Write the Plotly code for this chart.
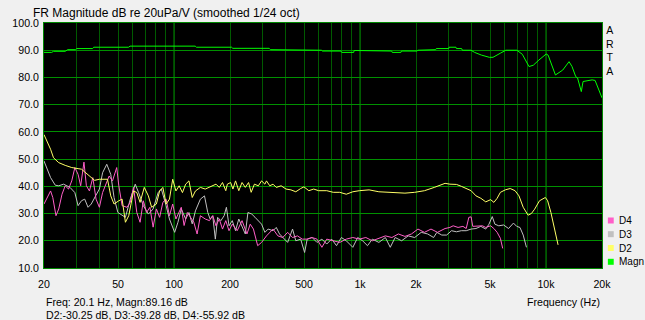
import math
import plotly.graph_objects as go

# ---------------- data ----------------
magn_freq = [20, 22, 22.5, 26, 26.8, 29.5, 30, 36.5, 37, 57, 58, 130, 132, 204, 207, 325, 330, 490,
             497, 620, 628, 790, 798, 925, 930, 1200, 1210, 1480, 1490, 1660, 1670, 2030, 2045, 2280,
             2290, 2550, 2570, 3000, 3010, 3280, 3300, 3520, 3550, 3950, 4130, 4500, 4956, 5188, 5680,
             6080, 6970, 7460, 8100, 8550, 9160, 10020, 10260, 11240, 12300, 13300, 13800, 14450,
             14780, 15480, 15820, 16560, 17700, 18360, 19860, 20000]
magn_db = [89.2, 89.2, 89.6, 89.6, 90.2, 90.2, 90.6, 90.6, 91.1, 91.1, 91.5, 91.5, 91.1, 91.1, 90.7,
           90.7, 90.2, 90.2, 90.0, 90.0, 89.7, 89.7, 89.2, 89.2, 89.9, 89.9, 89.7, 89.7, 89.2, 89.2,
           89.7, 89.7, 90.0, 90.0, 90.2, 90.2, 90.6, 90.6, 91.1, 91.1, 90.6, 90.6, 90.0, 90.0, 89.2,
           88.2, 87.4, 87.4, 88.9, 90.0, 90.0, 88.5, 84.0, 84.5, 86.4, 88.6, 88.2, 80.9, 82.7, 85.8,
           84.0, 80.3, 79.8, 74.8, 78.5, 78.7, 79.1, 78.9, 72.9, 72.5]

d2_freq = [20, 20.8, 21.7, 22.5, 24.0, 26.0, 28.2, 30.5, 31.8, 33.1, 35.1, 37.4, 39.7, 42.2, 43.9,
           45.7, 47.6, 50.5, 52.6, 54.8, 57.1, 60.6, 63.1, 65.7, 69.2, 72.8, 75.8, 80.4, 83.7, 87.1,
           90.7, 94.5, 98.4, 102.4, 106.6, 111, 115.5, 120.3, 125.3, 130.4, 138.6, 147.2, 155.1,
           161.5, 168.2, 175.1, 182.3, 189.8, 193.6, 201.6, 207.4, 214.2, 223, 232.2, 241.7, 251.7,
           259.9, 270.6, 284, 295.7, 308, 314.2, 327.2, 340.7, 354.7, 376.7, 400.2, 425.2, 451.7,
           479.8, 499.5, 530.6, 563.7, 599, 662.4, 718.2, 778.4, 843.8, 914.8, 991.6, 1119, 1263,
           1484, 1744, 1968, 2221, 2507, 2697, 2866, 3043, 3300, 3506, 3724, 3957, 4202, 4464, 4742,
           5038, 5245, 5461, 5686, 6040, 6418, 6817, 7155, 7541, 8011, 8340, 8684, 9226, 9920,
           10204, 10624, 11060, 11610]
d2_db = [59.0, 56.6, 53.6, 50.5, 48.7, 47.7, 46.9, 46.5, 46.3, 45.3, 43.8, 42.2, 42.6, 42.6, 42.6,
         36.5, 33.5, 34.7, 35.3, 26.8, 29.2, 38.3, 37.7, 34.1, 39.6, 36.5, 32.3, 33.5, 38.3, 39.6,
         33.5, 35.3, 42.6, 38.3, 40.2, 37.7, 40.8, 42.0, 35.9, 38.3, 39.6, 39.0, 39.6, 40.2, 40.8,
         39.6, 41.4, 38.4, 40.8, 41.4, 39.0, 42.0, 38.4, 41.4, 39.6, 41.4, 37.8, 40.8, 40.2, 42.0,
         40.8, 42.0, 40.2, 40.8, 39.6, 40.2, 39.0, 38.7, 38.0, 39.2, 39.8, 38.4, 39.0, 38.4, 38.4,
         37.8, 37.8, 37.1, 38.0, 38.4, 38.7, 38.0, 37.8, 37.5, 37.8, 38.4, 39.6, 40.5, 41.1, 40.8,
         40.7, 40.0, 39.2, 38.4, 36.5, 35.6, 34.3, 35.1, 34.1, 35.6, 37.8, 38.7, 39.2, 38.4, 36.5,
         32.3, 29.4, 30.0, 31.6, 34.7, 35.9, 34.7, 30.4, 25.5, 18.5]

d3_freq = [20, 20.8, 21.7, 23.0, 24.0, 25.5, 26.6, 27.6, 29.3, 30.5, 31.8, 33.1, 34.5, 35.9, 37.9,
           39.7, 41.3, 43.5, 45.7, 47.6, 49.9, 52.6, 54.8, 58.2, 61.9, 64.5, 68.4, 72.8, 77.2, 82.2,
           85.5, 90.7, 94.5, 100.8, 105, 109.4, 115.5, 120.3, 125.3, 130.4, 138.6, 145.8, 151.9,
           156.4, 161.5, 166.8, 171.6, 178.7, 186, 191.3, 197.6, 205.7, 214.2, 223, 232.2, 241.7,
           249.7, 262, 272.8, 284, 295.7, 308, 320.6, 340.7, 354.7, 369.3, 392.2, 408.3, 433.9,
           451.7, 479.8, 503.6, 520, 552.5, 587, 623.8, 662.4, 703.8, 747.7, 794.2, 843.8, 914.8,
           971.7, 1032, 1097, 1165, 1263, 1369, 1454, 1545, 1674, 1816, 1968, 2133, 2312, 2487,
           2590, 2752, 2923, 3105, 3300, 3506, 3724, 3957, 4202, 4464, 4742, 4937, 5140, 5309,
           5572, 5920, 6289, 6682, 6956, 7242, 7541, 7850]
d3_db = [49.3, 46.3, 43.2, 40.4, 40.2, 40.8, 40.2, 39.6, 37.7, 32.9, 34.7, 35.3, 32.3, 33.5, 36.5,
         39.0, 45.0, 48.1, 44.4, 35.9, 30.4, 29.5, 28.6, 35.3, 40.8, 37.7, 32.9, 29.8, 31.7, 37.7,
         39.0, 32.9, 28.0, 23.1, 26.8, 31.7, 28.0, 30.4, 26.2, 31.0, 35.3, 36.5, 30.4, 28.0, 29.2,
         20.6, 28.6, 27.4, 29.2, 32.3, 25.5, 27.4, 23.7, 28.0, 25.5, 22.5, 30.4, 29.8, 28.6, 27.4,
         26.1, 23.1, 24.3, 23.7, 24.9, 22.5, 20.6, 19.4, 24.3, 20.0, 20.6, 15.7, 20.6, 21.2, 19.4,
         20.6, 18.8, 20.6, 18.2, 21.2, 20.0, 17.6, 21.2, 20.0, 18.2, 20.6, 19.4, 21.2, 17.6, 21.2,
         20.0, 21.8, 21.2, 23.1, 22.5, 21.2, 23.1, 22.1, 22.1, 23.7, 23.3, 23.7, 23.7, 24.3, 24.5,
         25.3, 24.3, 26.1, 28.9, 26.1, 25.5, 25.8, 24.5, 26.5, 25.3, 24.9, 22.1, 17.6]

d4_freq = [20, 20.8, 21.7, 22.3, 23.2, 24.0, 25.0, 26.0, 27.1, 28.2, 29.3, 30.5, 31.5, 32.8, 33.8,
           35.1, 36.6, 38.1, 39.7, 41.3, 43.0, 44.8, 46.7, 49.2, 50.5, 52.6, 55.9, 58.2, 60.6, 63.1,
           65.7, 68.4, 71.2, 74.2, 77.2, 80.4, 83.7, 87.1, 90.7, 94.5, 98.4, 102.4, 109.4, 113.3,
           117.9, 122.7, 127.8, 133.1, 138.6, 147.2, 155.1, 161.5, 168.2, 175.1, 182.3, 189.8,
           197.6, 205.7, 218.6, 232.2, 246.7, 256.8, 267.3, 281.7, 295.7, 314.2, 327.2, 340.7,
           361.9, 384.4, 408.3, 433.9, 460.9, 489.6, 520, 552.5, 587, 623.8, 662.4, 718.2, 778.4,
           843.8, 914.8, 991.6, 1075, 1165, 1263, 1369, 1484, 1608, 1744, 1890, 2049, 2221, 2408,
           2610, 2866, 3043, 3168, 3367, 3577, 3724, 3846, 3957, 4036, 4287, 4555, 4742, 5038,
           5245, 5461, 5686, 5849]
d4_db = [33.5, 35.9, 38.3, 35.9, 29.2, 31.7, 37.1, 40.2, 39.0, 42.0, 46.9, 44.4, 40.2, 48.9, 40.2,
         38.3, 43.2, 35.3, 32.3, 37.7, 40.8, 43.8, 42.0, 46.9, 40.2, 32.9, 32.3, 34.1, 39.6, 30.4,
         26.8, 34.7, 30.4, 32.3, 25.0, 31.7, 28.6, 34.1, 35.3, 29.2, 33.5, 28.0, 32.3, 25.6, 30.4,
         28.6, 26.8, 22.5, 29.2, 28.0, 27.4, 29.2, 25.5, 28.0, 24.3, 27.4, 23.7, 26.1, 23.7, 27.4,
         22.5, 26.1, 24.3, 18.2, 19.4, 21.8, 23.1, 24.3, 21.8, 21.2, 23.1, 21.2, 21.8, 20.6, 20.6,
         21.2, 20.6, 17.6, 20.6, 20.0, 19.4, 20.6, 21.2, 20.6, 21.2, 20.0, 20.9, 21.8, 21.2, 22.5,
         21.6, 22.5, 24.3, 23.1, 24.3, 23.1, 24.5, 24.9, 25.5, 24.9, 25.3, 24.5, 28.6, 28.8, 25.3,
         25.3, 25.5, 24.9, 25.5, 24.5, 23.1, 20.9, 17.2]

x_grid = [20, 30, 40, 50, 60, 70, 80, 90, 100, 200, 300, 400, 500, 600, 700, 800, 900,
          1000, 2000, 3000, 4000, 5000, 6000, 7000, 8000, 9000, 10000, 20000]
x_labels = ["20", "", "", "50", "", "", "", "", "100", "200", "", "", "500", "", "", "", "",
            "1k", "2k", "", "", "5k", "", "", "", "", "10k", "20k"]
decades = [100, 1000, 10000]

series_names = ["D4", "D3", "D2", "Magn"]
series_colors = ["#ff5fc8", "#c0c0c0", "#ffff66", "#00ff00"]

title_text = "FR Magnitude dB re 20uPa/V (smoothed 1/24 oct)"
info_line1 = "Freq: 20.1 Hz, Magn:89.16 dB"
info_line2 = "D2:-30.25 dB, D3:-39.28 dB, D4:-55.92 dB"
x_title = "Frequency (Hz)"

# ---------------- figure ----------------
FONT = "Arial, 'Liberation Sans', sans-serif"
TXT = "#000000"
color_of = dict(zip(series_names, series_colors))

fig = go.Figure()
for name, fx, fy in [("D3", d3_freq, d3_db), ("D4", d4_freq, d4_db),
                     ("D2", d2_freq, d2_db), ("Magn", magn_freq, magn_db)]:
    fig.add_trace(go.Scatter(x=fx, y=fy, mode="lines", name=name, showlegend=False,
                             line=dict(color=color_of[name], width=1), hoverinfo="x+y+name"))

for f in decades:
    fig.add_shape(type="line", xref="x", yref="paper", x0=f, x1=f, y0=0, y1=1,
                  line=dict(color="#009000", width=1), layer="between")

# legend (drawn manually: square + label)
W, H = 571.0, 245.0
leg_y = [220.5, 234.2, 248.0, 261.8]
for name, py in zip(series_names, leg_y):
    yc = (268 - py) / H
    fig.add_shape(type="rect", xref="paper", yref="paper",
                  x0=(608 - 31) / W, x1=(614 - 31) / W,
                  y0=yc - 3 / H, y1=yc + 3 / H,
                  line=dict(width=0), fillcolor=color_of[name])
    fig.add_annotation(text=name, xref="paper", yref="paper", x=(617 - 31) / W, y=yc,
                       xanchor="left", yanchor="middle", showarrow=False,
                       font=dict(family=FONT, size=10, color=TXT))

fig.add_annotation(text="A<br>R<br>T<br>A", xref="paper", yref="paper",
                   x=(610.5 - 31) / W, y=(268 - 50.8) / H, xanchor="center", yanchor="middle",
                   showarrow=False, font=dict(family=FONT, size=10.5, color=TXT))
fig.add_annotation(text=info_line1, xref="paper", yref="paper", x=0, y=(268 - 301.5) / H,
                   xanchor="left", yanchor="middle", showarrow=False,
                   font=dict(family=FONT, size=10.6, color=TXT))
fig.add_annotation(text=info_line2, xref="paper", yref="paper", x=0, y=(268 - 314.5) / H,
                   xanchor="left", yanchor="middle", showarrow=False,
                   font=dict(family=FONT, size=10.6, color=TXT))
fig.add_annotation(text=x_title, xref="paper", yref="paper", x=1, y=(268 - 301.5) / H,
                   xanchor="right", yanchor="middle", showarrow=False,
                   font=dict(family=FONT, size=10.6, color=TXT))

fig.update_layout(
    width=645, height=320, autosize=False,
    margin=dict(l=31, r=43, t=23, b=52, pad=0),
    paper_bgcolor="#f0f0f0", plot_bgcolor="#000000",
    font=dict(family=FONT, size=10.6, color=TXT),
    title=dict(text=title_text, x=33 / 645, xanchor="left", xref="container",
               y=1 - 12.5 / 320, yanchor="middle", yref="container",
               font=dict(family=FONT, size=12, color=TXT)),
    showlegend=False,
    xaxis=dict(type="log", range=[math.log10(20), math.log10(20000)],
               tickmode="array", tickvals=x_grid, ticktext=x_labels,
               showgrid=True, gridcolor="#005a00", gridwidth=1,
               showline=True, mirror=True, linecolor="#008800", linewidth=1,
               ticks="outside", ticklen=6, tickcolor="rgba(0,0,0,0)",
               zeroline=False, tickfont=dict(family=FONT, size=10.6, color=TXT)),
    yaxis=dict(range=[10, 100], dtick=10, tick0=0, tickformat=".1f",
               showgrid=True, gridcolor="#009000", gridwidth=1,
               showline=True, mirror=True, linecolor="#008800", linewidth=1,
               ticks="outside", ticklen=2, tickcolor="rgba(0,0,0,0)",
               zeroline=False, tickfont=dict(family=FONT, size=10.6, color=TXT)),
)

fig.write_html("out.html", config={"displayModeBar": False},
               post_script="document.body.style.margin='0px';document.body.style.overflow='hidden';")
